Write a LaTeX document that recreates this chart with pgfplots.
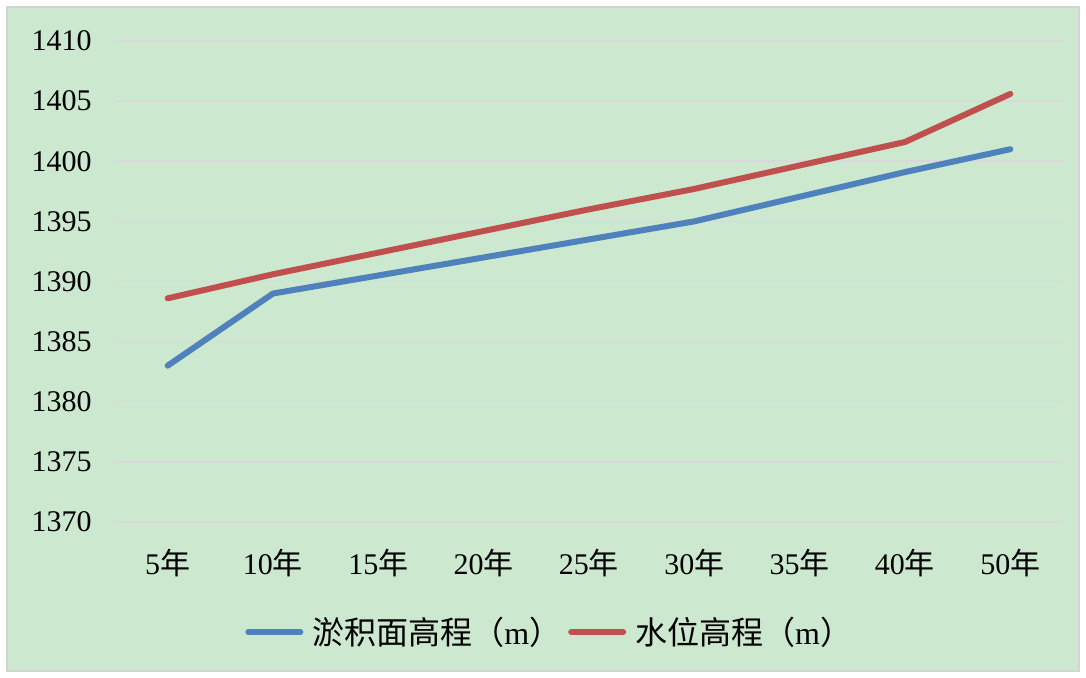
\documentclass[border=0pt]{standalone}
\usepackage{fontspec}
\setmainfont{Liberation Serif}
\newfontfamily\cjk{Noto Sans CJK SC}
\usepackage{pgfplots}
\pgfplotsset{compat=1.18}
\definecolor{bggreen}{HTML}{CCE8CF}
\definecolor{framegray}{HTML}{D4D4D4}
\definecolor{gridgray}{HTML}{D9D9D9}
\definecolor{seriesblue}{HTML}{4F81BD}
\definecolor{seriesred}{HTML}{C0504D}
\begin{document}
\begin{tikzpicture}[x=1pt,y=1pt]
\useasboundingbox (0,0) rectangle (543,339);
\fill[white] (0,0) rectangle (543,339);
\draw[fill=bggreen, draw=framegray, line width=0.75pt] (3.5,3.5) rectangle (539.5,335.5);
\begin{axis}[
  at={(57.5pt,78pt)}, anchor=south west,
  width=474pt, height=240.5pt, scale only axis,
  xmin=-0.5, xmax=8.5, ymin=1370, ymax=1410,
  ytick={1370,1375,...,1410},
  xtick={0,...,8},
  xticklabels={5{\cjk 年},10{\cjk 年},15{\cjk 年},20{\cjk 年},25{\cjk 年},30{\cjk 年},35{\cjk 年},40{\cjk 年},50{\cjk 年}},
  ymajorgrids, major grid style={draw=gridgray, line width=0.75pt},
  axis line style={draw=none},
  major tick length=0pt,
  tick label style={font=\fontsize{15}{18}\selectfont},
  /pgf/number format/assume math mode=true,
  /pgf/number format/1000 sep={},
  yticklabel style={anchor=east, inner sep=0pt, xshift=-11.5pt},
  xticklabel style={anchor=center, inner sep=0pt, yshift=-20.5pt},
  legend columns=2,
  legend style={at={(0.4575,-0.2287)}, anchor=center, draw=none, fill=none,
    font=\fontsize{16}{19}\selectfont, inner sep=0pt,
    nodes={inner sep=0pt},
    /tikz/every odd column/.append style={column sep=4.5pt},
    /tikz/every even column/.append style={column sep=3.5pt}},
  legend image code/.code={\draw[#1, line cap=round] (1.5pt,0pt) -- (27.5pt,0pt);},
]
% sediment surface elevation
\addplot[seriesblue, line width=3pt, line cap=round, line join=round] coordinates {
  (0,1383.0) (1,1389.0) (2,1390.5) (3,1392.0) (4,1393.5)
  (5,1395.0) (6,1397.05) (7,1399.1) (8,1401.0)};
\addlegendentry{{\cjk 淤积面高程（}m{\cjk ）}}
% water level elevation
\addplot[seriesred, line width=3pt, line cap=round, line join=round] coordinates {
  (0,1388.6) (1,1390.6) (2,1392.4) (3,1394.2) (4,1396.0)
  (5,1397.7) (6,1399.65) (7,1401.6) (8,1405.6)};
\addlegendentry{{\cjk 水位高程（}m{\cjk ）}}
\end{axis}
\end{tikzpicture}
\end{document}
